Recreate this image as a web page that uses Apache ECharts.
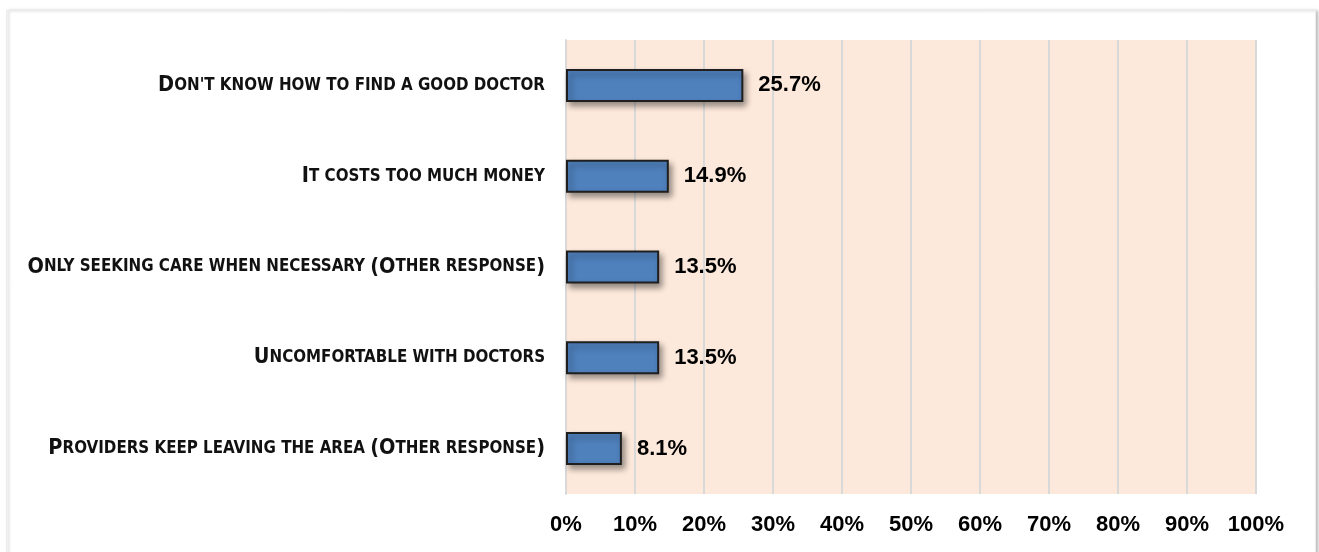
<!DOCTYPE html>
<html>
<head>
<meta charset="utf-8">
<script src="https://cdn.jsdelivr.net/npm/echarts@6/dist/echarts.min.js"></script>
<style>
  html, body { margin: 0; padding: 0; background: #ffffff; }
  #chart { width: 1319px; height: 552px; }
</style>
</head>
<body>
<div id="chart"></div>
<script>
// Reasons given for not seeing a doctor (share of respondents, %)
const categories = [
  "Don't know how to find a good doctor",
  "It costs too much money",
  "Only seeking care when necessary (Other response)",
  "Uncomfortable with doctors",
  "Providers keep leaving the area (Other response)"
];
const values = [25.7, 14.9, 13.5, 13.5, 8.1];
const tickLabels = ["0%", "10%", "20%", "30%", "40%", "50%", "60%", "70%", "80%", "90%", "100%"];

const labelFont = '"DejaVu Sans Condensed", "DejaVu Sans", sans-serif';
const numberFont = '"Liberation Sans", "DejaVu Sans", sans-serif';

// Small-caps rendering: original capitals (and brackets) large, everything else small uppercase.
function smallCaps(text) {
  let out = '';
  let run = '';
  let runStyle = null;
  for (const ch of text) {
    const big = (ch !== ch.toLowerCase()) || ch === '(' || ch === ')';
    const style = big ? 'b' : 's';
    if (style !== runStyle && run) {
      out += '{' + runStyle + '|' + run + '}';
      run = '';
    }
    runStyle = style;
    run += ch.toUpperCase();
  }
  if (run) out += '{' + runStyle + '|' + run + '}';
  return out;
}

const chart = echarts.init(document.getElementById('chart'));
chart.setOption({
  backgroundColor: '#ffffff',
  animation: false,
  graphic: [
    {
      type: 'rect',
      left: 6, top: 10,
      shape: { width: 1309, height: 560 },
      style: {
        fill: '#ffffff',
        stroke: '#ececec',
        lineWidth: 1,
        shadowColor: 'rgba(0,0,0,0.25)',
        shadowBlur: 3,
        shadowOffsetX: 2,
        shadowOffsetY: 0
      },
      z: -10
    }
  ],
  grid: {
    left: 566, right: 63, top: 40, bottom: 58,
    show: true,
    backgroundColor: '#fde9db',
    borderWidth: 0
  },
  xAxis: {
    type: 'value',
    min: 0, max: 100, interval: 10,
    axisLine: { show: false },
    axisTick: { show: false },
    splitLine: { show: true, lineStyle: { color: '#d9d9d9', width: 2 } },
    axisLabel: {
      margin: 20,
      color: '#000000',
      fontFamily: numberFont,
      fontSize: 22,
      fontWeight: 'bold',
      formatter: function (v) { return tickLabels[Math.round(v / 10)]; }
    }
  },
  yAxis: {
    type: 'category',
    data: categories,
    inverse: true,
    axisLine: { show: true, lineStyle: { color: '#d9d9d9', width: 2 } },
    axisTick: { show: false },
    axisLabel: {
      margin: 21,
      formatter: function (v) { return smallCaps(v); },
      rich: {
        b: { fontFamily: labelFont, fontWeight: 'bold', fontSize: 21.5, color: '#111111' },
        s: { fontFamily: labelFont, fontWeight: 'bold', fontSize: 16.8, color: '#111111' }
      }
    }
  },
  series: [
    {
      type: 'bar',
      data: values,
      barWidth: 33,
      itemStyle: {
        color: '#4f81bd',
        borderColor: '#1f1f1f',
        borderWidth: 2,
        shadowColor: 'rgba(0,0,0,0.4)',
        shadowBlur: 6,
        shadowOffsetX: 3,
        shadowOffsetY: 4
      },
      label: {
        show: true,
        position: 'right',
        distance: 15,
        color: '#000000',
        fontFamily: numberFont,
        fontSize: 22,
        fontWeight: 'bold',
        formatter: function (p) { return p.value.toFixed(1) + '%'; }
      }
    }
  ]
});
</script>
</body>
</html>
